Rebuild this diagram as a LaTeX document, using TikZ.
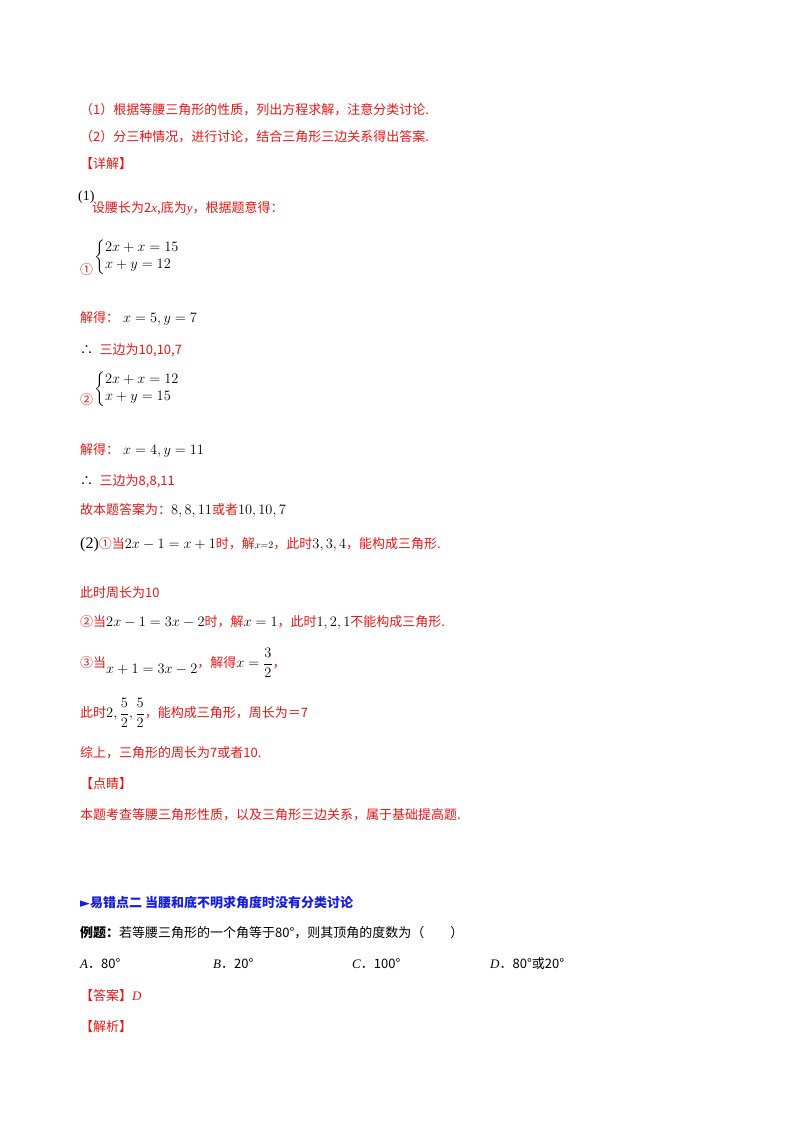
\documentclass[tikz,border=0pt]{standalone}
\usepackage{amsmath}
\usepackage{fontspec}
\setmainfont{Liberation Serif}
\newfontfamily\cjk{Noto Sans CJK SC}
\newfontfamily\djv{DejaVu Sans}
\definecolor{myred}{RGB}{235,20,20}
\definecolor{myblue}{RGB}{20,30,220}
\newcommand{\mth}[1]{\textcolor{black}{\rmfamily\fontsize{14}{16}\selectfont $#1$}}
\begin{document}
\begin{tikzpicture}[x=1pt,y=-1pt,
 t/.style={anchor=west,inner sep=0pt,font=\fontsize{13}{15}\selectfont\cjk,text=myred},
 tb/.style={t,text=black},
 m/.style={anchor=west,inner sep=0pt,font=\fontsize{14}{17}\selectfont,text=black}]
\useasboundingbox (0,0) rectangle (800,1132);
\node[t] (a1) at (80,110) {（1）根据等腰三角形的性质，列出方程求解，注意分类讨论.};
\node[t] (a2) at (80,137) {（2）分三种情况，进行讨论，结合三角形三边关系得出答案.};
\node[t] (a3) at (80,164) {【详解】};
\node[m] (b0) at (78,197) {(1)};
\node[t] (b1) at (92,208) {设腰长为2{\rmfamily\itshape x},底为{\rmfamily\itshape y}，根据题意得：};
\node[t] (c0) at (80,270) {①};
\node[m] (c1) at (94,257) {$\left\{\begin{array}{@{}l}2x+x=15\\ x+y=12\end{array}\right.$};
\node[t] (d1) at (80,318) {解得：\mth{\;x=5,y=7}};
\node[t] (d2) at (80,350) {\textcolor{black}{∴}\; 三边为10,10,7};
\node[t] (e0) at (80,400) {②};
\node[m] (e1) at (94,389) {$\left\{\begin{array}{@{}l}2x+x=12\\ x+y=15\end{array}\right.$};
\node[t] (f1) at (80,450) {解得：\mth{\;x=4,y=11}};
\node[t] (f2) at (80,481) {\textcolor{black}{∴}\; 三边为8,8,11};
\node[t] (f3) at (80,510) {故本题答案为：\mth{8,8,11}或者\mth{10,10,7}};
\node[t] (g1) at (80,545) {\textcolor{black}{\rmfamily\fontsize{16}{16}\selectfont(2)}①当\mth{2x-1=x+1}时，解\mth{\scriptstyle x=2}，此时\mth{3,3,4}，能构成三角形.};
\node[t] (g2) at (80,593) {此时周长为10};
\node[t] (g3) at (80,622) {②当\mth{2x-1=3x-2}时，解\mth{x=1}，此时\mth{1,2,1}不能构成三角形.};
\node[t] (g4) at (80,663) {③当\raisebox{-6pt}{\mth{x+1=3x-2}}，解得\mth{x=\dfrac{3}{2}}，};
\node[t] (g5) at (80,713) {此时\mth{2,\dfrac{5}{2},\dfrac{5}{2}}，能构成三角形，周长为＝7};
\node[t] (g6) at (80,753) {综上，三角形的周长为7或者10.};
\node[t] (h1) at (80,784) {【点睛】};
\node[t] (h2) at (80,815) {本题考查等腰三角形性质，以及三角形三边关系，属于基础提高题.};
\node[t,text=myblue,font=\fontsize{13}{15}\selectfont\cjk\bfseries] (i1) at (80,903) {{\djv ►}易错点二 当腰和底不明求角度时没有分类讨论};
\node[tb] (i2) at (80,933) {\textbf{例题：}若等腰三角形的一个角等于80°，则其顶角的度数为（\qquad）};
\node[tb] (o1) at (80,964) {{\rmfamily\itshape A}．80°};
\node[tb] (o2) at (213,964) {{\rmfamily\itshape B}．20°};
\node[tb] (o3) at (352,964) {{\rmfamily\itshape C}．100°};
\node[tb] (o4) at (490,964) {{\rmfamily\itshape D}．80°或20°};
\node[t] (j1) at (80,996) {【答案】{\rmfamily\itshape D}};
\node[t] (j2) at (80,1027) {【解析】};
\end{tikzpicture}
\end{document}
